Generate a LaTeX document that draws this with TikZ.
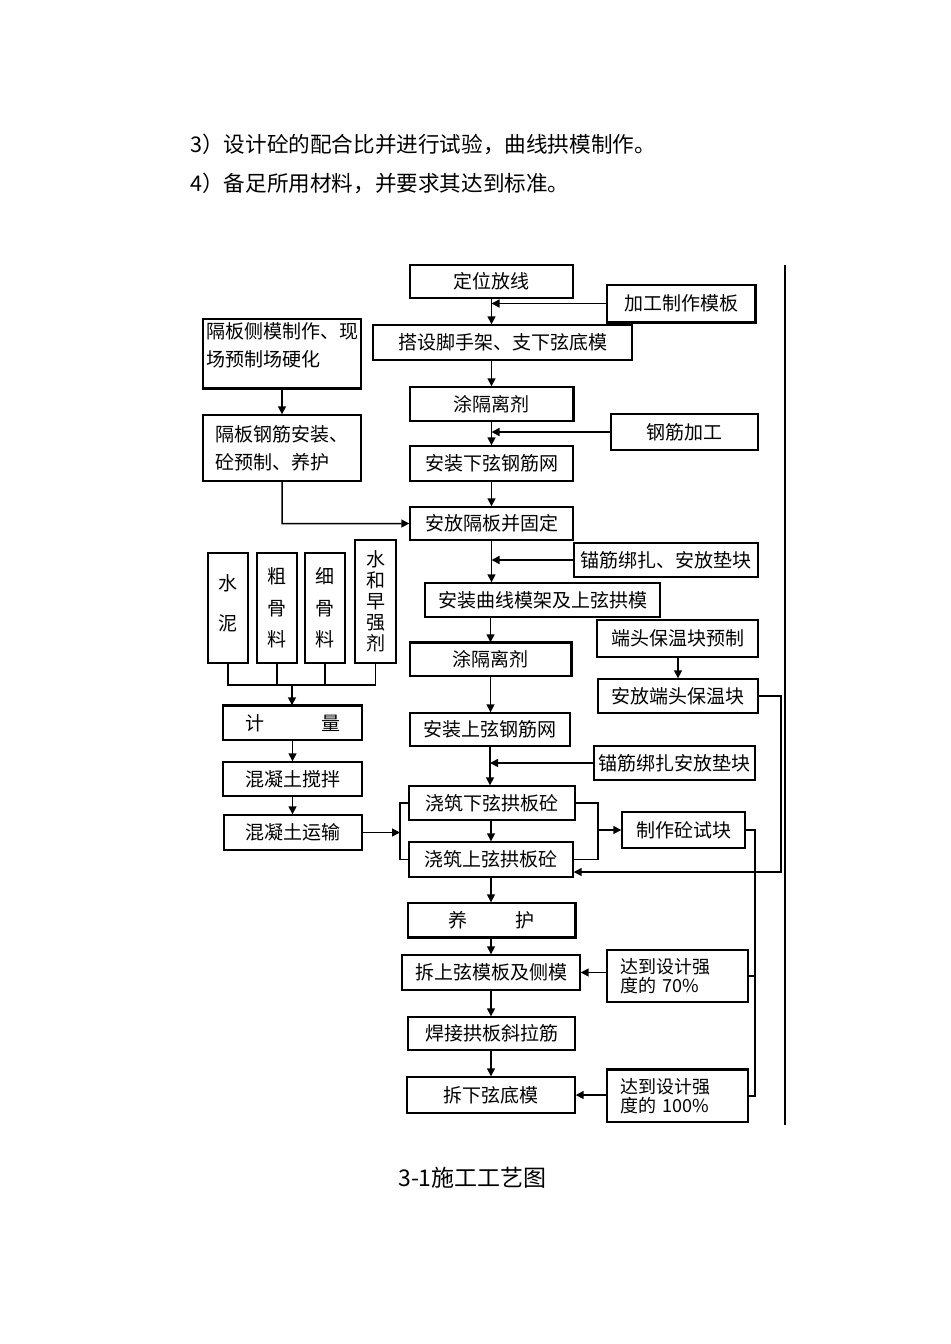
\documentclass[tikz,border=0pt]{standalone}
\usepackage{fontspec}
\setmainfont{Noto Sans CJK SC}
\usepackage{tikz}
\usetikzlibrary{arrows.meta,positioning,calc}
\tikzset{
  stepbox/.style={draw,line width=0.7pt,inner sep=0pt,align=center,font=\fontsize{9.5}{14}\selectfont},
  notebox/.style={draw,line width=0.7pt,inner sep=0pt,align=left,text width=57pt,font=\fontsize{9}{9.2}\selectfont},
  colbox/.style={draw,line width=0.7pt,inner sep=0pt,align=center},
  heavy/.style={line width=1.3pt},
  arrow/.style={-{Triangle[length=4pt,width=4pt]},line width=0.75pt},
  link/.style={line width=0.75pt},
  bodytext/.style={anchor=west,inner sep=0pt,font=\fontsize{10.8}{13}\selectfont}
}
\begin{document}
\begin{tikzpicture}[x=0.5pt,y=-0.5pt]
\useasboundingbox (0,0) rectangle (950,1344);

% text above the chart
\node[bodytext] (item3) at (190,144) {3）设计砼的配合比并进行试验，曲线拱模制作。};
\node[bodytext] (item4) at (190,183) {4）备足所用材料，并要求其达到标准。};

% main column
\node[stepbox,minimum width=163*.5pt,minimum height=33*.5pt] (dingwei) at (491.5,281.5) {定位放线};
\node[stepbox,minimum width=259*.5pt,minimum height=35*.5pt] (dajian) at (502.5,342.5) {搭设脚手架、支下弦底模};
\node[stepbox,minimum width=163*.5pt,minimum height=34*.5pt] (tuge1) at (491.5,404) {涂隔离剂};
\node[stepbox,minimum width=163*.5pt,minimum height=35*.5pt] (xiaxian) at (491.5,463.5) {安装下弦钢筋网};
\node[stepbox,minimum width=163*.5pt,minimum height=33*.5pt] (anfang) at (491.5,523.5) {安放隔板并固定};
\node[stepbox,minimum width=235*.5pt,minimum height=34*.5pt] (quxian) at (542.5,600) {安装曲线模架及上弦拱模};
\node[stepbox,minimum width=161*.5pt,minimum height=33*.5pt] (tuge2) at (490.5,659.5) {涂隔离剂};
\node[stepbox,minimum width=160*.5pt,minimum height=33*.5pt] (shangxian) at (490,729.5) {安装上弦钢筋网};
\node[stepbox,minimum width=166*.5pt,minimum height=34*.5pt] (jiaozhu1) at (492,803) {浇筑下弦拱板砼};
\node[stepbox,minimum width=164*.5pt,minimum height=35*.5pt] (jiaozhu2) at (491,859.5) {浇筑上弦拱板砼};
\node[stepbox,minimum width=167*.5pt,minimum height=34*.5pt] (yanghu) at (491.5,920) {养\hspace{24pt}护};
\node[stepbox,minimum width=178*.5pt,minimum height=35*.5pt] (chaishang) at (491,972.5) {拆上弦模板及侧模};
\node[stepbox,minimum width=167*.5pt,minimum height=33*.5pt] (hanjie) at (491.5,1033.5) {焊接拱板斜拉筋};
\node[stepbox,minimum width=168*.5pt,minimum height=36*.5pt] (chaixia) at (491,1095) {拆下弦底模};

% right column
\node[stepbox,minimum width=148*.5pt,minimum height=37*.5pt] (jiagong) at (681,303.5) {加工制作模板};
\node[stepbox,minimum width=147*.5pt,minimum height=36*.5pt] (gangjin) at (684.5,432) {钢筋加工};
\node[stepbox,minimum width=184*.5pt,minimum height=34*.5pt] (maojin1) at (666,560) {锚筋绑扎、安放垫块};
\node[stepbox,minimum width=161*.5pt,minimum height=37*.5pt] (duantou1) at (677.5,638.5) {端头保温块预制};
\node[stepbox,minimum width=160*.5pt,minimum height=34*.5pt] (duantou2) at (678,696) {安放端头保温块};
\node[stepbox,minimum width=161*.5pt,minimum height=34*.5pt] (maojin2) at (674.5,763) {锚筋绑扎安放垫块};
\node[stepbox,minimum width=123*.5pt,minimum height=36*.5pt] (shikuai) at (683.5,830) {制作砼试块};
\node[notebox,minimum width=141*.5pt,minimum height=52*.5pt] (qiang70) at (677.5,976) {达到设计强\\度的 70\%};
\node[notebox,minimum width=141*.5pt,minimum height=52*.5pt] (qiang100) at (677.5,1096) {达到设计强\\度的 100\%};

% left column
\node[stepbox,minimum width=158*.5pt,minimum height=69*.5pt] (gebanmo) at (282,353.5) {\parbox[c][31pt][t]{76pt}{隔板侧模制作、现\\场预制场硬化}};
\node[stepbox,minimum width=158*.5pt,minimum height=66*.5pt,align=left] (gebangj) at (282,448) {隔板钢筋安装、\\砼预制、养护};
\node[colbox,minimum width=40*.5pt,minimum height=110*.5pt,font=\fontsize{9.5}{20}\selectfont] (shuini) at (228,608) {水\\泥\\[-15pt]};
\node[colbox,minimum width=40*.5pt,minimum height=110*.5pt,font=\fontsize{9.5}{15.75}\selectfont] (cugu) at (277,608) {粗\\骨\\料};
\node[colbox,minimum width=40*.5pt,minimum height=110*.5pt,font=\fontsize{9.5}{15.75}\selectfont] (xigu) at (325,608) {细\\骨\\料};
\node[colbox,minimum width=41*.5pt,minimum height=123*.5pt,font=\fontsize{9.5}{10.5}\selectfont] (zaoqiang) at (375.5,601.5) {水\\和\\早\\强\\剂};
\node[stepbox,minimum width=139*.5pt,minimum height=34*.5pt] (jiliang) at (292.5,723) {计\hspace{28.5pt}量};
\node[stepbox,minimum width=139*.5pt,minimum height=34*.5pt] (jiaoban) at (292.5,779) {混凝土搅拌};
\node[stepbox,minimum width=138*.5pt,minimum height=35*.5pt] (yunshu) at (293,832.5) {混凝土运输};

% heavier edges
\draw[heavy] (jiagong.north east) -- (jiagong.south east) -- (jiagong.south west);
\draw[heavy] (gebanmo.south west) -- (gebanmo.south east);
\draw[heavy] (tuge1.north east) -- (tuge1.south east);
\draw[heavy] (tuge2.north west) -- (tuge2.north east) -- (tuge2.south east);
\draw[heavy] (jiliang.north west) -- (jiliang.north east);
\draw[heavy] (yanghu.north east) -- (yanghu.south east) -- (yanghu.south west);
\draw[heavy] (qiang100.north west) -- (qiang100.north east);

% junction points
\coordinate (hub) at (292,685);
\coordinate (lbr) at (400,832);
\coordinate (rbr) at (598,830);
\coordinate (fb) at (781,872);
\coordinate (tb) at (755,830);

% main flow
\draw[arrow] (dingwei.south) -- (dingwei.south |- dajian.north);
\draw[arrow] (dajian.south -| dingwei.south) -- (tuge1.north);
\draw[arrow] (tuge1.south) -- (xiaxian.north);
\draw[arrow] (xiaxian.south) -- (anfang.north);
\draw[arrow] (anfang.south) -- (anfang.south |- quxian.north);
\draw[arrow] (quxian.south -| tuge2.north) -- (tuge2.north);
\draw[arrow] (tuge2.south) -- (tuge2.south |- shangxian.north);
\draw[arrow] (shangxian.south) -- (shangxian.south |- jiaozhu1.north);
\draw[arrow] (jiaozhu1.south -| jiaozhu2.north) -- (jiaozhu2.north);
\draw[arrow] (jiaozhu2.south) -- (jiaozhu2.south |- yanghu.north);
\draw[arrow] (yanghu.south -| chaishang.north) -- (chaishang.north);
\draw[arrow] (chaishang.south) -- (chaishang.south |- hanjie.north);
\draw[arrow] (hanjie.south -| chaixia.north) -- (chaixia.north);

% side inputs
\draw[arrow] (jiagong.west) -- (jiagong.west -| dingwei.south);
\draw[arrow] (gangjin.west) -- (gangjin.west -| tuge1.south);
\draw[arrow] (maojin1.west) -- (maojin1.west -| anfang.south);
\draw[arrow] (maojin2.west) -- (maojin2.west -| shangxian.south);
\draw[arrow] (duantou1.south -| duantou2.north) -- (duantou2.north);
\draw[arrow] (qiang70.west |- chaishang.east) -- (chaishang.east);
\draw[arrow] (qiang100.west |- chaixia.east) -- (chaixia.east);

% left branch
\draw[arrow] (gebanmo.south) -- (gebangj.north);
\draw[arrow] (gebangj.south) -- ++(0,42) -- (anfang.west);
\draw[link] (shuini.south) -- (shuini.south |- hub) -- (zaoqiang.south |- hub) -- (zaoqiang.south);
\draw[link] (cugu.south) -- (cugu.south |- hub);
\draw[link] (xigu.south) -- (xigu.south |- hub);
\draw[arrow] (hub) -- (hub |- jiliang.north);
\draw[arrow] (jiliang.south) -- (jiaoban.north);
\draw[arrow] (jiaoban.south) -- (jiaoban.south |- yunshu.north);

% pouring brackets
\draw[link] (jiaozhu1.west) -- (jiaozhu1.west -| lbr) -- (jiaozhu2.west -| lbr) -- (jiaozhu2.west);
\draw[arrow] (yunshu.east) -- (yunshu.east -| lbr);
\draw[link] (jiaozhu1.east) -- (jiaozhu1.east -| rbr) -- (jiaozhu2.east -| rbr) -- (jiaozhu2.east);
\draw[arrow] (rbr) -- (shikuai.west);

% return lines
\draw[arrow] (duantou2.east) -- (duantou2.east -| fb) -- (fb) -- (fb -| jiaozhu2.east);
\draw[link] (shikuai.east) -- (shikuai.east -| tb) -- (qiang100.east -| tb) -- (qiang100.east);
\draw[link] (qiang70.east) -- (qiang70.east -| tb);
\draw[link] (785,265) -- (785,1125);

% caption
\node[font=\fontsize{11.5}{13}\selectfont] (caption) at (472.5,1178) {3-1施工工艺图};
\end{tikzpicture}
\end{document}
